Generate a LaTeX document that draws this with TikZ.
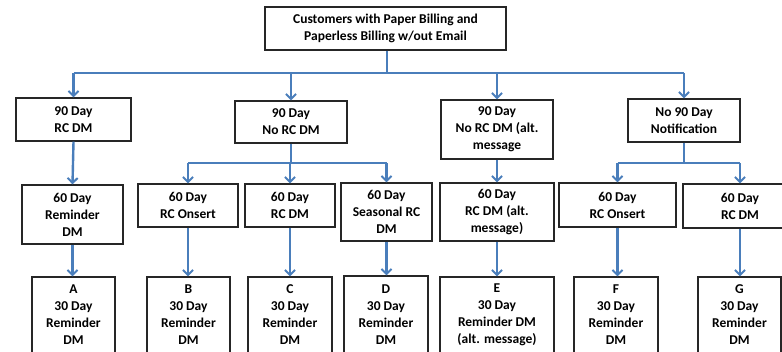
\documentclass[tikz,border=0pt]{standalone}
\usepackage{fontspec}
\setmainfont{Carlito}
\usetikzlibrary{arrows.meta}
\definecolor{conn}{HTML}{4A7EBB}
\definecolor{boxline}{HTML}{262626}
\tikzset{
  box/.style={draw=boxline, line width=1.3pt, fill=white, align=center, inner sep=0pt,
    font=\fontsize{13.5}{17}\selectfont\bfseries, text=black},
  arr/.style={draw=conn, line width=2.4pt, -{Straight Barb[length=5pt,width=10pt,line width=2pt]}},
  ln/.style={draw=conn, line width=2.4pt},
}
\begin{document}
\begin{tikzpicture}[x=1pt,y=-1pt]
\useasboundingbox (0,0) rectangle (782,351);
\clip (0,0) rectangle (782,351);
\fill[white] (0,0) rectangle (782,351);
% level 0
\node[box, minimum width=241, minimum height=43] (top) at (385.5,28.5) {Customers with Paper Billing and\\Paperless Billing w/out Email};
% level 1
\node[box, minimum width=115, minimum height=43] (b1) at (73.5,119.5) {90 Day\\RC DM};
\node[box, minimum width=112, minimum height=42] (b2) at (291,122) {90 Day\\No RC DM};
\node[box, minimum width=112, minimum height=59] (b3) at (497,129.5) {90 Day\\No RC DM (alt.\\message};
\node[box, minimum width=112, minimum height=43] (b4) at (684,120.5) {No 90 Day\\Notification};
% level 2
\node[box, minimum width=101, minimum height=59] (c1) at (72.5,214.5) {60 Day\\Reminder\\DM};
\node[box, minimum width=100, minimum height=43] (c2) at (188,205.5) {60 Day\\RC Onsert};
\node[box, minimum width=90, minimum height=43] (c3) at (290,205.5) {60 Day\\RC DM};
\node[box, minimum width=91, minimum height=58] (c4) at (386.5,212) {60 Day\\Seasonal RC\\DM};
\node[box, minimum width=114, minimum height=58] (c5) at (497,212) {60 Day\\RC DM (alt.\\message)};
\node[box, minimum width=117, minimum height=44] (c6) at (617.5,205) {60 Day\\RC Onsert};
\node[box, minimum width=114, minimum height=44] (c7) at (740,206) {60 Day\\RC DM};
% level 3
\node[box, minimum width=83, minimum height=76] (dA) at (73.5,315) {A\\30 Day\\Reminder\\DM};
\node[box, minimum width=83, minimum height=76] (dB) at (188.5,315) {B\\30 Day\\Reminder\\DM};
\node[box, minimum width=84, minimum height=76] (dC) at (290,315) {C\\30 Day\\Reminder\\DM};
\node[box, minimum width=84, minimum height=77] (dD) at (386,314.5) {D\\30 Day\\Reminder\\DM};
\node[box, minimum width=114, minimum height=76] (dE) at (497,315) {E\\30 Day\\Reminder DM\\(alt. message)};
\node[box, minimum width=84, minimum height=76] (dF) at (616,315) {F\\30 Day\\Reminder\\DM};
\node[box, minimum width=83, minimum height=76] (dG) at (739.5,315) {G\\30 Day\\Reminder\\DM};
% junctions
\coordinate (j0) at (387,73);
\coordinate (j0l) at (73.5,73);
\coordinate (j0r) at (684,73);
\coordinate (j2) at (291,163);
\coordinate (j2l) at (188,163);
\coordinate (j2r) at (386.5,163);
\coordinate (j4) at (684,163);
\coordinate (j4l) at (617.5,163);
\coordinate (j4r) at (740,163);
% level 0 -> 1
\draw[ln] (top.south -| j0) -- (j0);
\draw[ln] (j0l) -- (j0r);
\draw[arr] (j0l) -- (b1.north);
\draw[arr] (b2.north |- j0) -- (b2.north);
\draw[arr] (b3.north |- j0) -- (b3.north);
\draw[arr] (j0r) -- (b4.north);
% level 1 -> 2
\draw[arr] (b1.south) -- (c1.north);
\draw[ln] (b2.south) -- (j2);
\draw[ln] (j2l) -- (j2r);
\draw[arr] (j2l) -- (c2.north);
\draw[arr] (c3.north |- j2) -- (c3.north);
\draw[arr] (j2r) -- (c4.north);
\draw[arr] (b3.south) -- (c5.north);
\draw[ln] (b4.south) -- (j4);
\draw[ln] (j4l) -- (j4r);
\draw[arr] (j4l) -- (c6.north);
\draw[arr] (j4r) -- (c7.north);
% level 2 -> 3
\draw[arr] (c1.south) -- (c1.south |- dA.north);
\draw[arr] (c2.south) -- (c2.south |- dB.north);
\draw[arr] (c3.south) -- (c3.south |- dC.north);
\draw[arr] (c4.south) -- (c4.south |- dD.north);
\draw[arr] (c5.south) -- (c5.south |- dE.north);
\draw[arr] (c6.south) -- (c6.south |- dF.north);
\draw[arr] (c7.south) -- (c7.south |- dG.north);
\end{tikzpicture}
\end{document}
